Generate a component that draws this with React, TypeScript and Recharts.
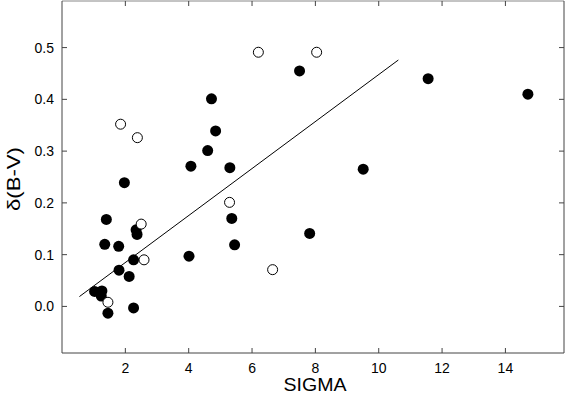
import React from 'react';
import { ScatterChart, Scatter, XAxis, YAxis, ReferenceLine } from 'recharts';

const filledSigma = [1.40, 1.35, 1.79, 2.34, 2.37, 2.26, 1.80, 2.12, 1.03, 1.21, 1.26, 1.24, 1.45, 2.26, 4.01, 1.97, 4.07, 7.50, 11.56, 14.71, 4.72, 4.85, 4.60, 5.30, 9.51, 5.36, 5.45, 7.82];
const filledDelta = [0.168, 0.120, 0.116, 0.148, 0.139, 0.090, 0.070, 0.058, 0.029, 0.028, 0.030, 0.020, -0.013, -0.003, 0.097, 0.239, 0.271, 0.455, 0.440, 0.410, 0.401, 0.339, 0.301, 0.268, 0.265, 0.170, 0.119, 0.141];
const openSigma = [2.50, 2.59, 1.45, 1.85, 2.38, 6.20, 8.04, 5.29, 6.65];
const openDelta = [0.159, 0.090, 0.008, 0.352, 0.326, 0.491, 0.491, 0.201, 0.071];
const fitSigma = [0.55, 10.62];
const fitDelta = [0.019, 0.476];
const xTicks = [2, 4, 6, 8, 10, 12, 14];
const yTicks = [0, 0.1, 0.2, 0.3, 0.4, 0.5];

const filled = filledSigma.map((x, i) => ({ x, y: filledDelta[i] }));
const open = openSigma.map((x, i) => ({ x, y: openDelta[i] }));

const FONT = '"Liberation Sans", Arial, Helvetica, sans-serif';
const AXIS = '#444';
const TL = 5;
const XDOM: [number, number] = [0, 15.85];
const YDOM: [number, number] = [-0.09, 0.59];

const BottomTick = (p: any) => (
  <g>
    <line x1={p.x} y1={p.y} x2={p.x} y2={p.y - TL} stroke={AXIS} strokeWidth={1} />
    <text x={p.x} y={p.y + 19.5} textAnchor="middle" fontSize={14} fontFamily={FONT} fill="#000">{p.payload.value}</text>
  </g>
);
const LeftTick = (p: any) => (
  <g>
    <line x1={p.x} y1={p.y} x2={p.x + TL} y2={p.y} stroke={AXIS} strokeWidth={1} />
    <text x={p.x - 8} y={p.y + 5} textAnchor="end" fontSize={14} fontFamily={FONT} fill="#000">{Number(p.payload.value).toFixed(1)}</text>
  </g>
);
const TopTick = (p: any) => (
  <line x1={p.x} y1={p.y} x2={p.x} y2={p.y + TL} stroke={AXIS} strokeWidth={1} />
);
const RightTick = (p: any) => (
  <line x1={p.x} y1={p.y} x2={p.x - TL} y2={p.y} stroke={AXIS} strokeWidth={1} />
);

const XLabel = (p: any) => {
  const vb = p.viewBox;
  return (
    <text x={vb.x + vb.width / 2 + 2} y={391} textAnchor="middle" fontSize={18} fontFamily={FONT} fill="#000"
      textLength={63} lengthAdjust="spacingAndGlyphs">SIGMA</text>
  );
};
const YLabel = (p: any) => {
  const vb = p.viewBox;
  const cy = vb.y + vb.height / 2 + 2;
  return (
    <text x={20} y={cy} transform={`rotate(-90 20 ${cy})`} textAnchor="middle" fontSize={18} fontFamily={FONT} fill="#000"
      textLength={64} lengthAdjust="spacingAndGlyphs">δ(B-V)</text>
  );
};

const FilledDot = (p: any) => <circle cx={p.cx} cy={p.cy} r={5.5} fill="#000" />;
const OpenDot = (p: any) => <circle cx={p.cx} cy={p.cy} r={5} fill="#fff" stroke="#000" strokeWidth={1} />;

export default function App() {
  return (
    <div style={{ position: 'absolute', left: 0, top: 0, background: '#fff' }}>
      <ScatterChart width={566} height={395} margin={{ top: 0, right: 1, bottom: 0, left: 0 }}>
        <XAxis xAxisId={0} dataKey="x" type="number" domain={XDOM} ticks={xTicks} allowDataOverflow
          orientation="bottom" height={42} tickLine={false} tickSize={0} tickMargin={0}
          axisLine={{ stroke: AXIS, strokeWidth: 1 }} tick={<BottomTick />}
          label={<XLabel />} />
        <XAxis xAxisId="top" dataKey="x" type="number" domain={XDOM} ticks={xTicks} allowDataOverflow
          orientation="top" height={1} tickLine={false} tickSize={0} tickMargin={0}
          axisLine={{ stroke: '#888', strokeWidth: 1 }} tick={<TopTick />} />
        <YAxis yAxisId={0} dataKey="y" type="number" domain={YDOM} ticks={yTicks} allowDataOverflow
          orientation="left" width={62} tickLine={false} tickSize={0} tickMargin={0}
          axisLine={{ stroke: AXIS, strokeWidth: 1 }} tick={<LeftTick />}
          label={<YLabel />} />
        <YAxis yAxisId="right" dataKey="y" type="number" domain={YDOM} ticks={yTicks} allowDataOverflow
          orientation="right" width={1} tickLine={false} tickSize={0} tickMargin={0}
          axisLine={{ stroke: AXIS, strokeWidth: 1 }} tick={<RightTick />} />
        <ReferenceLine xAxisId={0} yAxisId={0}
          segment={[{ x: fitSigma[0], y: fitDelta[0] }, { x: fitSigma[1], y: fitDelta[1] }]}
          stroke="#000" strokeWidth={1} />
        <Scatter xAxisId={0} yAxisId={0} data={filled} shape={<FilledDot />} isAnimationActive={false} />
        <Scatter xAxisId={0} yAxisId={0} data={open} shape={<OpenDot />} isAnimationActive={false} />
      </ScatterChart>
    </div>
  );
}
